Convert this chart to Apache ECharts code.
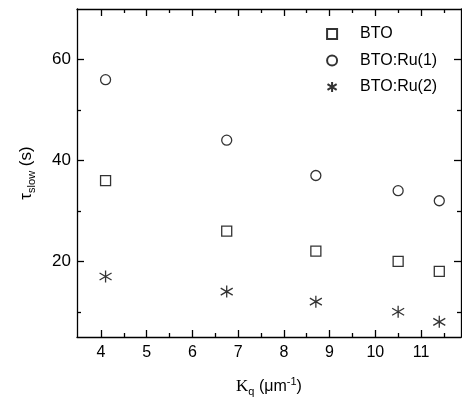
<!DOCTYPE html>
<html>
<head>
<meta charset="utf-8">
<script src="https://cdn.jsdelivr.net/npm/echarts@6/dist/echarts.min.js"></script>
<style>
  html, body { margin: 0; padding: 0; background: #fff; }
  #main { width: 462px; height: 402px; }
</style>
</head>
<body>
<div id="main"></div>
<script>
// data
var kq = [4.1, 6.75, 8.7, 10.5, 11.4];
var bto = [36, 26, 22, 20, 18];
var btoRu1 = [56, 44, 37, 34, 32];
var btoRu2 = [17, 14, 12, 10, 8];
var seriesNames = ['BTO', 'BTO:Ru(1)', 'BTO:Ru(2)'];

var xMajor = [4, 5, 6, 7, 8, 9, 10, 11];
var xMinor = [4.5, 5.5, 6.5, 7.5, 8.5, 9.5, 10.5, 11.5];
var yMajor = [20, 40, 60];
var yMinor = [10, 30, 50];

var FONT = '"Liberation Sans", Arial, sans-serif';
var LW = 1.3;

function pairs(xs, ys) {
  return xs.map(function (x, i) { return [x, ys[i]]; });
}

// one axis for each tick set, bottom/top and left/right
function xAx(pos, ticks, len, showLine, labels) {
  return {
    type: 'value', position: pos, min: 3.475, max: 11.875,
    axisLine: { show: showLine, lineStyle: { color: '#000', width: LW } },
    axisTick: { show: true, inside: true, length: len, customValues: ticks, lineStyle: { color: '#000', width: LW } },
    axisLabel: { show: !!labels, customValues: ticks, color: '#000', fontSize: 16, fontFamily: FONT, margin: 8 },
    splitLine: { show: false }
  };
}
function yAx(pos, ticks, len, showLine, labels) {
  return {
    type: 'value', position: pos, min: 5, max: 70,
    axisLine: { show: showLine, lineStyle: { color: '#000', width: LW } },
    axisTick: { show: true, inside: true, length: len, customValues: ticks, lineStyle: { color: '#000', width: LW } },
    axisLabel: { show: !!labels, customValues: ticks, color: '#000', fontSize: 17, fontFamily: FONT, margin: 6 },
    splitLine: { show: false }
  };
}

var xMain = xAx('bottom', xMajor, 7, true, true);
xMain.name = '{k|K}{sub|q}{t| (μm}{sup|-1}{t|)}';
xMain.nameLocation = 'middle';
xMain.nameGap = 39;
xMain.nameTextStyle = {
  color: '#000',
  rich: {
    k: { fontFamily: '"Liberation Serif", serif', fontSize: 17, color: '#000' },
    sub: { fontFamily: FONT, fontSize: 11, color: '#000', padding: [10, 0, 0, 0] },
    t: { fontFamily: FONT, fontSize: 16, color: '#000' },
    sup: { fontFamily: FONT, fontSize: 11, color: '#000', padding: [0, 0, 10, 0] }
  }
};

var yMain = yAx('left', yMajor, 7, true, true);
yMain.name = '{t|τ}{sub|slow}{t| (s)}';
yMain.nameLocation = 'middle';
yMain.nameGap = 40;
yMain.nameTextStyle = {
  color: '#000',
  rich: {
    t: { fontFamily: FONT, fontSize: 17, color: '#000' },
    sub: { fontFamily: FONT, fontSize: 11, color: '#000', padding: [10, 0, 0, 0] }
  }
};

var markStyle = { color: '#fff', borderColor: '#000', borderWidth: LW };
var starPath = 'path://M0,-6L0,6M-5.5,-3.5L5.5,3.5M-5.5,3.5L5.5,-3.5';

var chart = echarts.init(document.getElementById('main'));
chart.setOption({
  backgroundColor: '#fff',
  animation: false,
  grid: { left: 77, right: 1, top: 9, bottom: 64 },
  legend: {
    orient: 'vertical',
    left: 320,
    top: 21,
    itemWidth: 10,
    itemHeight: 10,
    itemGap: 10.5,
    textStyle: { color: '#000', fontSize: 16, fontFamily: FONT, lineHeight: 16, padding: [0, 0, 0, 18] },
    data: seriesNames
  },
  xAxis: [
    xMain,
    xAx('bottom', xMinor, 4, false, false),
    xAx('top', xMajor, 7, true, false),
    xAx('top', xMinor, 4, false, false)
  ],
  yAxis: [
    yMain,
    yAx('left', yMinor, 4, false, false),
    yAx('right', yMajor, 7, true, false),
    yAx('right', yMinor, 4, false, false)
  ],
  series: [
    {
      name: seriesNames[0], type: 'scatter', symbol: 'rect', symbolSize: 10,
      itemStyle: markStyle, data: pairs(kq, bto)
    },
    {
      name: seriesNames[1], type: 'scatter', symbol: 'circle', symbolSize: 10,
      itemStyle: markStyle, data: pairs(kq, btoRu1)
    },
    {
      name: seriesNames[2], type: 'scatter', symbol: starPath, symbolSize: 12,
      itemStyle: { color: 'none', borderColor: '#000', borderWidth: LW }, data: pairs(kq, btoRu2)
    }
  ]
});
</script>
</body>
</html>
